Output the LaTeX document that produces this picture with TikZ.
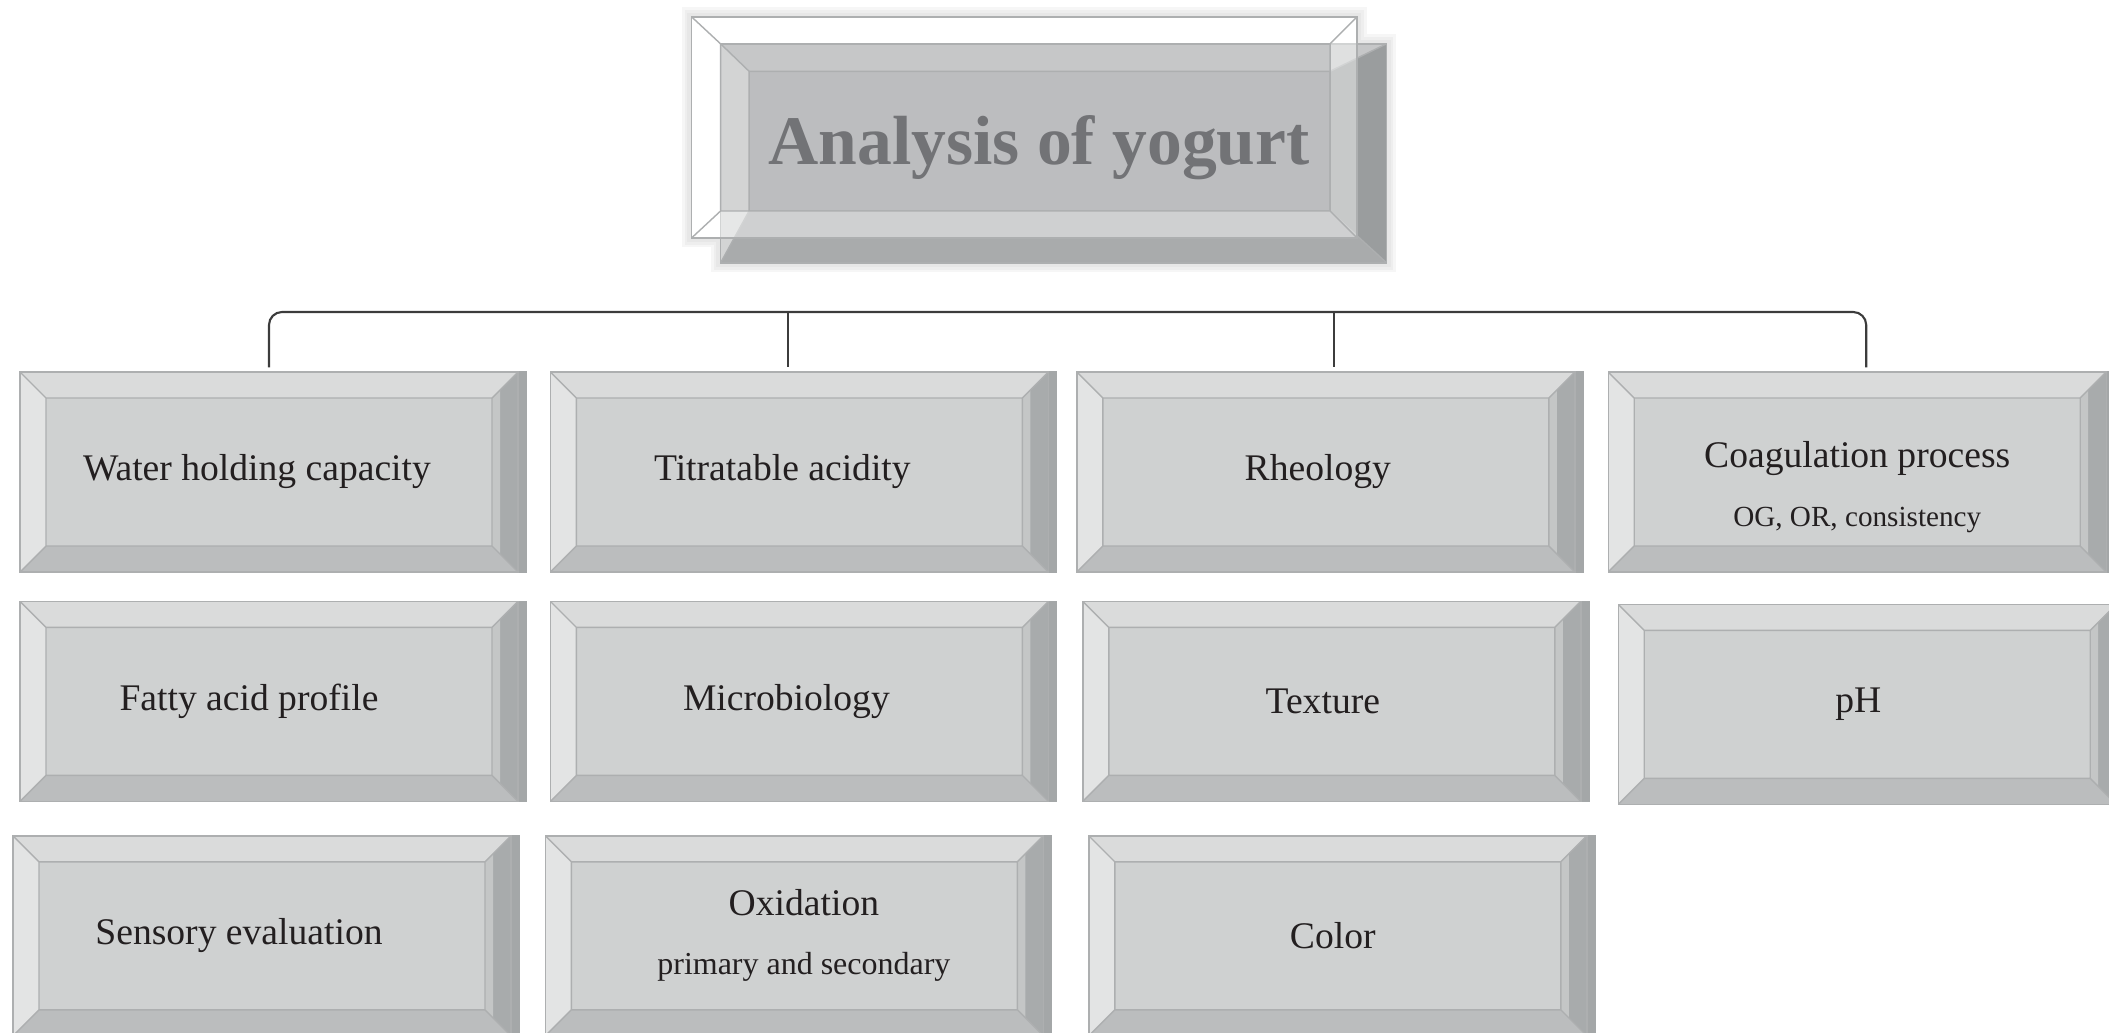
\documentclass[tikz,border=0pt]{standalone}
\usepackage{fontspec}
\setmainfont{Liberation Serif}
\usetikzlibrary{positioning,calc,backgrounds}
\definecolor{FaceGray}{HTML}{CFD1D1}
\definecolor{TopGray}{HTML}{DADBDB}
\definecolor{LeftGray}{HTML}{E3E4E4}
\definecolor{BotGray}{HTML}{BBBDBE}
\definecolor{RightGray}{HTML}{A8ABAC}
\definecolor{BandGray}{HTML}{C4C6C6}
\definecolor{SideGray}{HTML}{A4A7A8}
\definecolor{EdgeGray}{HTML}{ADAFB0}
\definecolor{Ink}{HTML}{231F20}
\definecolor{HeadFace}{HTML}{BCBDBF}
\definecolor{HeadTop}{HTML}{C6C7C8}
\definecolor{HeadLeft}{HTML}{D3D4D4}
\definecolor{HeadBot}{HTML}{A9ABAC}
\definecolor{HeadRight}{HTML}{9A9D9E}
\definecolor{HeadInk}{HTML}{727376}
\definecolor{GlowGray}{HTML}{B8B8B8}
\definecolor{Link}{HTML}{3C3C3C}
\newcommand{\subline}[1]{{\fontsize{8.3}{10}\selectfont #1}}
% corners of the bevel inside a path picture: left, top, right, bottom insets
\newcommand{\bevelcorners}[4]{%
  \path (path picture bounding box.north west) coordinate (bnw)
        (path picture bounding box.north east) coordinate (bne)
        (path picture bounding box.south west) coordinate (bsw)
        (path picture bounding box.south east) coordinate (bse);
  \path ([shift={(#1,-#2)}]bnw) coordinate (inw)
        ([shift={(-#3,-#2)}]bne) coordinate (ine)
        ([shift={(#1,#4)}]bsw) coordinate (isw)
        ([shift={(-#3,#4)}]bse) coordinate (ise);}
% faces: top, left, bottom, right
\newcommand{\bevelfaces}[4]{%
  \fill[#1] (bnw) -- (bne) -- (ine) -- (inw) -- cycle;
  \fill[#2] (bnw) -- (inw) -- (isw) -- (bsw) -- cycle;
  \fill[#3] (bsw) -- (isw) -- (ise) -- (bse) -- cycle;
  \fill[#4] (bne) -- (bse) -- (ise) -- (ine) -- cycle;}
\newcommand{\beveledges}{%
  \draw[EdgeGray, line width=0.4pt] (inw) rectangle (ise) (bnw) -- (inw) (bne) -- (ine) (bsw) -- (isw) (bse) -- (ise);}
% light band along the inner edge of the right face
\newcommand{\bevelband}[2]{%
  \fill[#1] (ine) -- (ise) -- ([shift={(#2,-#2)}]ise) -- ([shift={(#2,#2)}]ine) -- cycle;}

\begin{document}
\begin{tikzpicture}[every node/.style={font=\fontsize{10.7}{12.8}\selectfont, text=Ink}]
\tikzstyle{bevel}=[draw=EdgeGray, line width=0.4pt, fill=FaceGray, minimum width=4.98cm, minimum height=2cm, inner sep=0pt, align=center, path picture={\bevelcorners{0.26cm}{0.26cm}{0.26cm}{0.26cm}\bevelfaces{TopGray}{LeftGray}{BotGray}{RightGray}\bevelband{BandGray}{0.08cm}\beveledges}]
\tikzstyle{nudge}=[execute at begin node={\hspace*{-#1}}]
\tikzstyle{headbox}=[draw=EdgeGray, line width=0.4pt, fill=HeadFace, minimum width=6.66cm, minimum height=2.19cm, inner sep=0pt, path picture={\bevelcorners{0.285cm}{0.275cm}{0.566cm}{0.518cm}\bevelfaces{HeadTop}{HeadLeft}{HeadBot}{HeadRight}\beveledges}]
\tikzstyle{headframe}=[draw=EdgeGray, line width=0.4pt, minimum width=6.655cm, minimum height=2.212cm, inner sep=0pt, path picture={\bevelcorners{0.29cm}{0.27cm}{0.27cm}{0.27cm}\bevelfaces{white,opacity=0.45}{white,opacity=0.45}{white,opacity=0.45}{white,opacity=0.45}\beveledges}]
\tikzstyle{link}=[draw=Link, line width=0.6pt, rounded corners=0.13cm]
\useasboundingbox (0,0) rectangle (21.09,-10.33);

% title
\node[headbox] (head) at (10.536,-1.533) {};
\node[headframe] (frame) at (10.243,-1.274) {};
\node[font=\fontsize{19.8}{24}\selectfont\bfseries, text=HeadInk] (title) at ([yshift=-0.07cm]$(head)!0.5!(frame)$) {Analysis of yogurt};

% first row
\node[bevel, nudge=0.24cm] (water) at (2.69,-4.72) {Water holding capacity};
\node[bevel, nudge=0.34cm, right=0.31cm of water] (titr) {Titratable acidity};
\node[bevel, nudge=0.16cm, right=0.27cm of titr] (rheo) {Rheology};
\node[bevel, text height=33pt, right=0.32cm of rheo] (coag) {Coagulation process\\[4pt]\subline{OG, OR, consistency}};
% second row
\node[bevel, nudge=0.4cm, below=0.28cm of water] (fatty) {Fatty acid profile};
\node[bevel, nudge=0.26cm, below=0.28cm of titr] (micro) {Microbiology};
\node[bevel, nudge=0.18cm, below=0.28cm of rheo, xshift=0.06cm] (texture) {Texture};
\node[bevel, nudge=0.18cm, below=0.28cm of coag, xshift=0.1cm, yshift=-0.03cm] (ph) {pH};
% third row
\node[bevel, nudge=0.46cm, below=0.33cm of fatty, xshift=-0.07cm] (sensory) {Sensory evaluation};
\node[bevel, below=0.33cm of micro, xshift=-0.05cm] (oxid) {\hspace*{0.19cm}Oxidation\\[4pt]\hspace*{0.19cm}{\fontsize{9.1}{10}\selectfont primary and secondary}};
\node[bevel, nudge=0.1cm, below=0.33cm of texture, xshift=0.06cm] (color) {Color};

% bracket
\coordinate (bar) at (0,-3.12);
\draw[link] ([yshift=0.04cm]water.north) |- ([xshift=0.09cm]bar -| coag.north) -- ([shift={(0.09cm,0.04cm)}]coag.north);
\draw[link] ([xshift=-0.11cm]bar -| titr.north) -- ([shift={(-0.11cm,0.04cm)}]titr.north);
\draw[link] ([xshift=0.08cm]bar -| rheo.north) -- ([shift={(0.08cm,0.04cm)}]rheo.north);

\begin{scope}[on background layer]
\foreach \w in {5,3.5,2}
  \draw[GlowGray, line width=\w pt, opacity=0.13] (frame.south west) rectangle (frame.north east) (head.south west) rectangle (head.north east);
\fill[white] (frame.south west) rectangle (frame.north east);
\foreach \n in {water,titr,rheo,coag,fatty,micro,texture,ph,sensory,oxid,color}
  \fill[SideGray] (\n.north east) rectangle ([xshift=0.08cm]\n.south east);
\end{scope}
\end{tikzpicture}
\end{document}
